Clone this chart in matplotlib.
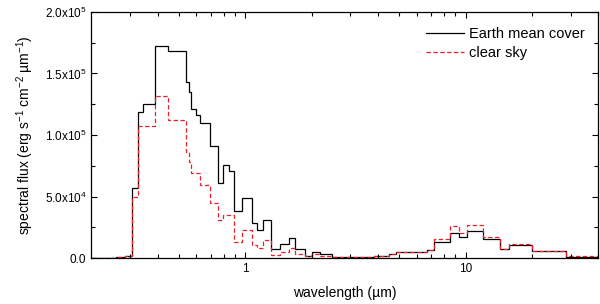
import numpy as np
import matplotlib
matplotlib.use("Agg")
import matplotlib.pyplot as plt
from matplotlib.ticker import FixedLocator, FuncFormatter, MultipleLocator

plt.rcParams['font.family'] = ['Liberation Sans', 'DejaVu Sans']
plt.rcParams['mathtext.fontset'] = 'custom'
plt.rcParams['mathtext.rm'] = 'Liberation Sans'
plt.rcParams['mathtext.it'] = 'Liberation Sans:italic'

# bin edges in micron
edges = [0.20, 0.26, 0.285, 0.305, 0.327, 0.343, 0.390, 0.448, 0.539, 0.553,
         0.565, 0.599, 0.624, 0.693, 0.751, 0.792, 0.840, 0.891, 0.966, 1.073,
         1.130, 1.204, 1.309, 1.443, 1.574, 1.687, 1.874, 2.02, 2.19, 2.48,
         3.0, 3.83, 4.48, 4.81, 6.70, 7.18, 8.48, 9.32, 10.18, 12.03,
         14.32, 15.73, 20.1, 28.5, 40.5]

# fluxes in 1e3 erg s-1 cm-2 um-1
mean_cover = [0.3, 0.8, 2, 57, 119, 125, 172.5, 168, 143, 135,
              121, 116, 109.5, 91, 61, 75.6, 71, 38, 48.5, 28.5,
              23, 31, 7.5, 11.2, 16, 7.1, 2, 5.1, 3.5, 1,
              1.2, 1.8, 3.3, 4.6, 6.5, 12.8, 20.1, 16.8, 22, 15.4,
              7.1, 10.6, 5.7, 1]
clear_sky = [0.2, 0.5, 1.5, 50, 107, 107, 132, 112, 86, 78,
             69, 69, 59, 45, 31, 35, 35, 13, 23, 10.6,
             8, 14.5, 2.5, 5.1, 8, 3.3, 1.6, 3.3, 1.6, 0.8,
             1, 1.8, 3.3, 4.6, 6.5, 15.4, 26, 20.6, 26.6, 17.3,
             7.1, 11.1, 5.7, 1.6]

edges = np.array(edges)
mean_cover = np.array(mean_cover) * 1e3
clear_sky = np.array(clear_sky) * 1e3

fig = plt.figure(figsize=(6.0, 3.04), dpi=100)
ax = fig.add_axes([0.152, 0.151, 0.845, 0.810])

ax.stairs(mean_cover, edges, baseline=None, color='black', lw=0.9,
          label='Earth mean cover')
ax.stairs(clear_sky, edges, baseline=None, color='#e8202a', lw=0.9,
          ls=(0, (3.5, 2)), label='clear sky')

ax.set_xscale('log')
ax.set_xlim(0.2, 40)
ax.set_ylim(0, 2e5)

ax.xaxis.set_major_locator(FixedLocator([1, 10]))
ax.xaxis.set_minor_locator(FixedLocator(
    [0.3, 0.4, 0.5, 0.6, 0.7, 0.8, 0.9, 2, 3, 4, 5, 6, 7, 8, 9, 20, 30, 40]))
ax.xaxis.set_major_formatter(FuncFormatter(lambda v, p: '%g' % v))
ax.xaxis.set_minor_formatter(FuncFormatter(lambda v, p: ''))

ax.yaxis.set_major_locator(MultipleLocator(5e4))
ax.yaxis.set_minor_locator(MultipleLocator(2.5e4))
ylabels = {0: '0.0', 50000: r'5.0x10$^{4}$', 100000: r'1.0x10$^{5}$',
           150000: r'1.5x10$^{5}$', 200000: r'2.0x10$^{5}$'}
ax.yaxis.set_major_formatter(FuncFormatter(lambda v, p: ylabels.get(int(round(v)), '')))

ax.tick_params(which='both', direction='in', top=True, right=True,
               labelsize=8.5, width=0.8)
ax.tick_params(which='major', length=4.5)
ax.tick_params(which='minor', length=3)
for s in ax.spines.values():
    s.set_linewidth(0.9)

ax.set_xlabel('wavelength (\u00b5m)', fontsize=10, labelpad=8)
ax.set_ylabel('spectral flux (erg s$^{-1}$ cm$^{-2}$ \u00b5m$^{-1}$)', fontsize=10,
              labelpad=6)

ax.legend(loc='upper right', bbox_to_anchor=(0.993, 0.98), frameon=False,
          fontsize=10.5, handlelength=2.6, handletextpad=0.3,
          labelspacing=0.35, borderaxespad=0.3)

fig.savefig('out.png', dpi=100)
